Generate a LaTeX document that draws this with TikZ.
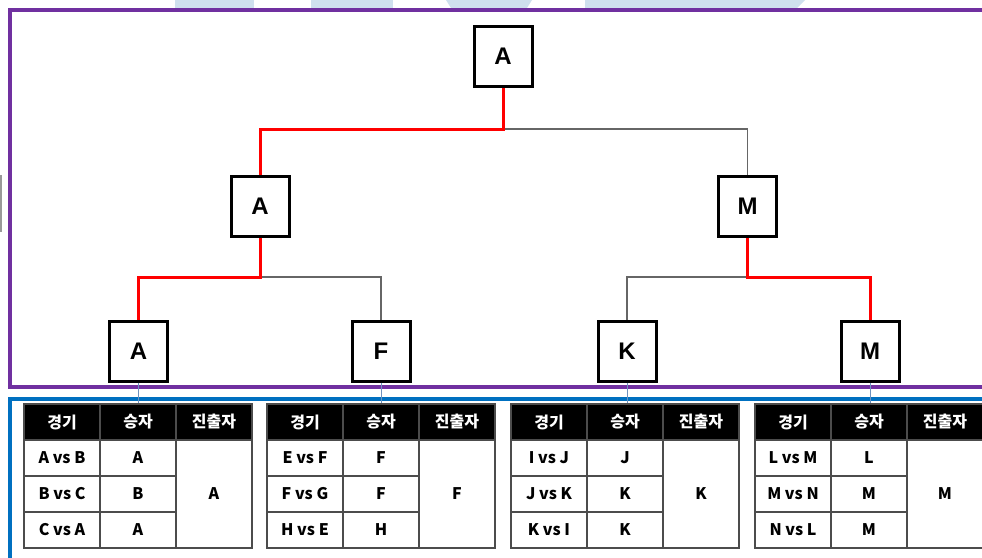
\documentclass[tikz,border=0pt]{standalone}
\usepackage{fontspec}
\setmainfont{Liberation Sans}
\newfontfamily\kr{Noto Sans CJK KR}
\definecolor{frpurple}{RGB}{112,48,160}
\definecolor{frblue}{RGB}{0,112,192}
\definecolor{wmblue}{RGB}{207,224,238}
\definecolor{tlink}{RGB}{110,145,190}
\newcommand\mktable[9]{%
  \node[hcell] (#2h1) at ({#1+38},422) {경기};
  \node[hcell] (#2h2) at ({#1+114},422) {승자};
  \node[hcell] (#2h3) at ({#1+190},422) {진출자};
  \node[cell] (#2a1) at ({#1+38},458) {#3};
  \node[cell] (#2b1) at ({#1+114},458) {#4};
  \node[cell] (#2a2) at ({#1+38},494) {#5};
  \node[cell] (#2b2) at ({#1+114},494) {#6};
  \node[cell] (#2a3) at ({#1+38},530) {#7};
  \node[cell] (#2b3) at ({#1+114},530) {#8};
  \node[cell,minimum height=108pt] (#2c) at ({#1+190},494) {#9};
}
\begin{document}
\begin{tikzpicture}[x=1pt,y=-1pt,
  tnode/.style={draw=black,line width=3pt,minimum width=58pt,minimum height=60pt,inner sep=0pt,fill=white,font=\fontsize{24}{24}\selectfont\bfseries},
  win/.style={draw=red,line width=3pt},
  lose/.style={draw=black!60,line width=1.2pt},
  tline/.style={draw=tlink,line width=1pt},
  cell/.style={draw=black!70,line width=1.3pt,minimum width=76pt,minimum height=36pt,inner sep=0pt,fill=white,font=\kr\fontsize{16}{16}\selectfont\bfseries},
  hcell/.style={cell,fill=black,text=white},
  frame/.style={line width=4pt}
]
\useasboundingbox (0,0) rectangle (982,557);
\clip (0,0) rectangle (982,557);
\fill[white] (0,0) rectangle (982,557);
% watermark remnants at top
\fill[wmblue] (175,0) rectangle (254,8);
\fill[wmblue] (311,0) rectangle (393,8);
\fill[wmblue] (446,0) -- (532,0) -- (527,8) -- (451,8) -- cycle;
\fill[wmblue] (585,0) -- (805,0) -- (797,8) -- (585,8) -- cycle;
\fill[black!40] (0,175) rectangle (1.5,232);
% frames
\draw[frame,frpurple] (10,10) rectangle (1000,387);
\draw[frame,frblue] (10,399) rectangle (1000,600);
% tree nodes
\node[tnode] (r) at (503,56.5) {A};
\node[tnode] (la) at (260,206) {A};
\node[tnode] (lm) at (747.5,206) {M};
\node[tnode] (ka) at (138.5,351) {A};
\node[tnode] (kf) at (381,351) {F};
\node[tnode] (kk) at (627,351) {K};
\node[tnode] (km) at (870,351) {M};
\coordinate (j1) at (503,129);
\coordinate (j2) at (260,277);
\coordinate (j3) at (747.5,277);
% connectors
\draw[lose] (j1) -| (lm.north);
\draw[lose] (j2) -| (kf.north);
\draw[lose] (j3) -| (kk.north);
\draw[win] (r.south) -- (j1) -| (la.north);
\draw[win] (la.south) -- (j2) -| (ka.north);
\draw[win] (lm.south) -- (j3) -| (km.north);
% tables
\mktable{24}{ta}{A vs B}{A}{B vs C}{B}{C vs A}{A}{A}
\mktable{267}{tb}{E vs F}{F}{F vs G}{F}{H vs E}{H}{F}
\mktable{511}{tc}{I vs J}{J}{J vs K}{K}{K vs I}{K}{K}
\mktable{755}{td}{L vs M}{L}{M vs N}{M}{N vs L}{M}{M}
% leaf-to-table links
\draw[tline] (ka.south) -- (ka.south |- tah2.north);
\draw[tline] (kf.south) -- (kf.south |- tbh2.north);
\draw[tline] (kk.south) -- (kk.south |- tch2.north);
\draw[tline] (km.south) -- (km.south |- tdh2.north);
\end{tikzpicture}
\end{document}
